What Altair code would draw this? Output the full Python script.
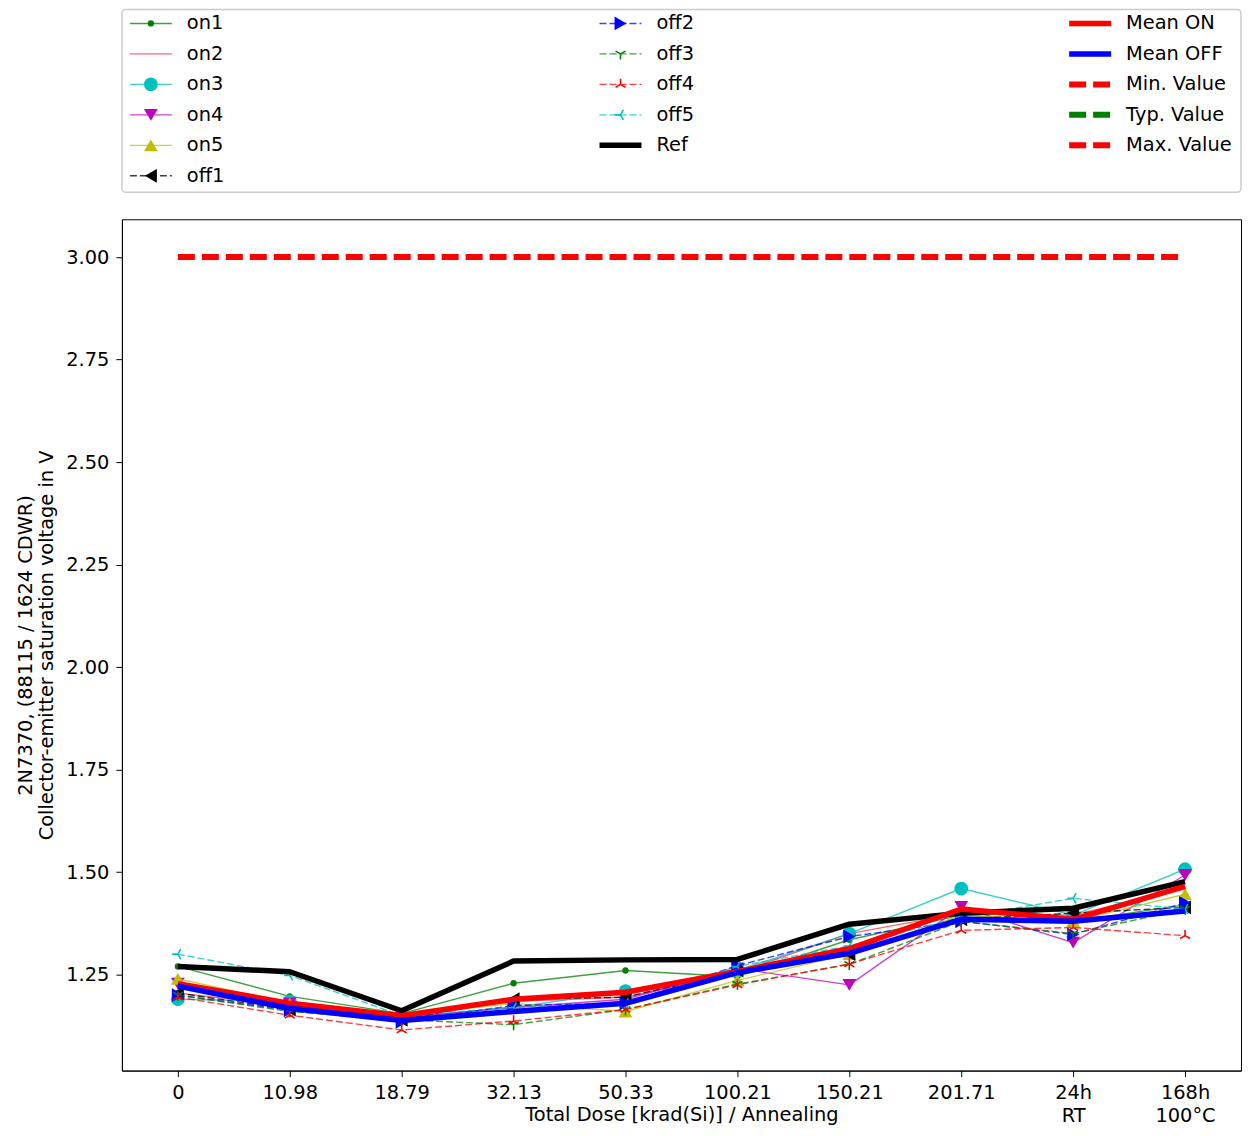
import altair as alt
import pandas as pd

# ---------------- data ----------------
DOSES = ["0", "10.98", "18.79", "32.13", "50.33", "100.21", "150.21", "201.71", "24h\nRT", "168h\n100°C"]

ON1 = [1.270, 1.197, 1.155, 1.229, 1.260, 1.245, 1.335, 1.395, 1.380, 1.420]
ON2 = [1.205, 1.175, 1.150, 1.185, 1.195, 1.255, 1.350, 1.400, 1.395, 1.460]
ON3 = [1.190, 1.185, 1.145, 1.170, 1.210, 1.260, 1.350, 1.460, 1.395, 1.507]
ON4 = [1.228, 1.180, 1.145, 1.170, 1.190, 1.265, 1.225, 1.415, 1.328, 1.493]
ON5 = [1.240, 1.180, 1.150, 1.180, 1.160, 1.236, 1.300, 1.395, 1.380, 1.446]
OFF1 = [1.205, 1.165, 1.140, 1.190, 1.195, 1.260, 1.300, 1.385, 1.400, 1.414]
OFF2 = [1.200, 1.163, 1.135, 1.175, 1.180, 1.272, 1.343, 1.380, 1.348, 1.425]
OFF3 = [1.200, 1.160, 1.140, 1.128, 1.165, 1.227, 1.275, 1.380, 1.350, 1.410]
OFF4 = [1.195, 1.151, 1.115, 1.137, 1.165, 1.225, 1.276, 1.358, 1.365, 1.345]
OFF5 = [1.300, 1.248, 1.150, 1.170, 1.180, 1.270, 1.320, 1.390, 1.436, 1.410]
REF = [1.270, 1.257, 1.162, 1.283, 1.286, 1.287, 1.373, 1.400, 1.412, 1.477]
MEAN_ON = [1.228, 1.180, 1.150, 1.190, 1.207, 1.258, 1.313, 1.410, 1.385, 1.465]
MEAN_OFF = [1.222, 1.168, 1.138, 1.160, 1.180, 1.255, 1.302, 1.385, 1.380, 1.405]
MAX_VALUE = [3.0] * 10

Y_TICKS = [1.25, 1.50, 1.75, 2.00, 2.25, 2.50, 2.75, 3.00]
Y_TITLE = ["2N7370, (88115 / 1624 CDWR)", "Collector-emitter saturation voltage in V"]
X_TITLE = "Total Dose [krad(Si)] / Annealing"

LEGEND_COLS = [
    ["on1", "on2", "on3", "on4", "on5", "off1"],
    ["off2", "off3", "off4", "off5", "Ref"],
    ["Mean ON", "Mean OFF", "Min. Value", "Typ. Value", "Max. Value"],
]

SERIES = {
    "on1": ON1, "on2": ON2, "on3": ON3, "on4": ON4, "on5": ON5,
    "off1": OFF1, "off2": OFF2, "off3": OFF3, "off4": OFF4, "off5": OFF5,
    "Ref": REF, "Mean ON": MEAN_ON, "Mean OFF": MEAN_OFF, "Max. Value": MAX_VALUE,
}

# ---------------- styles ----------------
TRI_DOWN = "M0,0L0,1M0,0L-0.866,-0.5M0,0L0.866,-0.5"
TRI_UP = "M0,0L0,-1M0,0L-0.866,0.5M0,0L0.866,0.5"
TRI_LEFT = "M0,0L-1,0M0,0L0.5,-0.866M0,0L0.5,0.866"
THIN_DASH = [7, 3]
THICK_DASH = [17, 7]

STYLES = {
    "on1": dict(color="#008000", width=1.4, dash=None, op=0.75, shape="circle", size=40, filled=True),
    "on2": dict(color="#ff0000", width=1.4, dash=None, op=0.6, shape=None),
    "on3": dict(color="#00bfbf", width=1.4, dash=None, op=0.75, shape="circle", size=190, filled=True),
    "on4": dict(color="#bf00bf", width=1.4, dash=None, op=0.75, shape="triangle-down", size=190, filled=True),
    "on5": dict(color="#bfbf00", width=1.4, dash=None, op=0.75, shape="triangle-up", size=190, filled=True),
    "off1": dict(color="#000000", width=1.4, dash=THIN_DASH, op=0.75, shape="triangle-left", size=190, filled=True),
    "off2": dict(color="#0000ff", width=1.4, dash=THIN_DASH, op=0.75, shape="triangle-right", size=190, filled=True),
    "off3": dict(color="#008000", width=1.4, dash=THIN_DASH, op=0.75, shape=TRI_DOWN, size=130, filled=False),
    "off4": dict(color="#ff0000", width=1.4, dash=THIN_DASH, op=0.75, shape=TRI_UP, size=130, filled=False),
    "off5": dict(color="#00bfbf", width=1.4, dash=THIN_DASH, op=0.75, shape=TRI_LEFT, size=130, filled=False),
    "Ref": dict(color="#000000", width=5.5, dash=None, op=1, shape=None),
    "Mean ON": dict(color="#ff0000", width=5.5, dash=None, op=1, shape=None),
    "Mean OFF": dict(color="#0000ff", width=5.5, dash=None, op=1, shape=None),
    "Min. Value": dict(color="#ff0000", width=6, dash=THICK_DASH, op=1, shape=None),
    "Typ. Value": dict(color="#008000", width=6, dash=THICK_DASH, op=1, shape=None),
    "Max. Value": dict(color="#ff0000", width=6, dash=THICK_DASH, op=1, shape=None),
}

FONT = "DejaVu Sans"
FS = 19.4
W = 1120
H_MAIN = 852
H_LEG = 183
ROW_PITCH = 30.5

# ---------------- main chart ----------------
X = alt.X(
    "dose:N",
    sort=None,
    scale=alt.Scale(domain=DOSES, type="point", padding=0.5),
    axis=alt.Axis(
        title=X_TITLE, labelAngle=0, labelExpr="split(datum.label, '\\n')",
        labelLineHeight=23, labelPadding=7, tickSize=6, grid=False,
        titleY=50, titleBaseline="alphabetic",
    ),
)
Y = alt.Y(
    "value:Q",
    scale=alt.Scale(domain=[1.016, 3.092], nice=False, zero=False),
    axis=alt.Axis(
        values=Y_TICKS, format=".2f", title=Y_TITLE, tickSize=6, labelPadding=7,
        grid=False, titleX=-86, titleBaseline="bottom", titleLineHeight=21,
    ),
)


def line_kwargs(st):
    kw = dict(color=st["color"], strokeWidth=st["width"], opacity=st["op"], strokeJoin="round")
    if st["dash"]:
        kw["strokeDash"] = st["dash"]
    return kw


def point_kwargs(st):
    kw = dict(shape=st["shape"], size=st["size"], opacity=1)
    if st["filled"]:
        kw.update(filled=True, fill=st["color"], color=st["color"], strokeWidth=0)
    else:
        kw.update(filled=False, color=st["color"], strokeWidth=1.6)
    return kw


layers = []
for name, vals in SERIES.items():
    st = STYLES[name]
    df = pd.DataFrame({"dose": DOSES, "value": vals})
    base = alt.Chart(df)
    layers.append(base.mark_line(**line_kwargs(st)).encode(x=X, y=Y))
    if st["shape"]:
        layers.append(base.mark_point(**point_kwargs(st)).encode(x=X, y=Y))

main = alt.layer(*layers).properties(
    width=W, height=H_MAIN,
    view=alt.ViewBackground(stroke="#000000", strokeWidth=1),
)

# ---------------- legend panel ----------------
leg_rows = []
for ci, col in enumerate(LEGEND_COLS):
    for ri, name in enumerate(col):
        leg_rows.append({"series": name, "col": ci, "row": ri})
leg_df = pd.DataFrame(leg_rows)

LX = alt.X("col:Q", scale=alt.Scale(domain=[-8 / 470, (W - 8) / 470], nice=False, zero=False), axis=None)
LY = alt.Y("row:Q", scale=alt.Scale(domain=[-14 / ROW_PITCH, (H_LEG - 14) / ROW_PITCH], nice=False, zero=False, reverse=True), axis=None)

leg_layers = []
for name in [n for col in LEGEND_COLS for n in col]:
    st = STYLES[name]
    base = alt.Chart(leg_df).transform_filter(alt.datum.series == name)
    leg_layers.append(
        base.mark_rule(x2Offset=42, **line_kwargs(st)).encode(x=LX, x2=alt.X2("col:Q"), y=LY)
    )
    if st["shape"]:
        leg_layers.append(base.mark_point(xOffset=21, **point_kwargs(st)).encode(x=LX, y=LY))
    leg_layers.append(
        base.mark_text(align="left", baseline="middle", dx=57, font=FONT, fontSize=FS, color="#000000")
        .encode(x=LX, y=LY, text="series:N")
    )

legend = alt.layer(*leg_layers).properties(
    width=W, height=H_LEG,
    view=alt.ViewBackground(stroke="#cccccc", strokeWidth=1.5, cornerRadius=4),
)

chart = (
    alt.vconcat(legend, main, spacing=25)
    .properties(padding={"left": 7, "top": 0, "right": 0, "bottom": 0})
    .configure_axis(
        labelFont=FONT, titleFont=FONT, labelFontSize=FS, titleFontSize=FS,
        titleFontWeight="normal", labelColor="#000000", titleColor="#000000",
        domainColor="#000000", tickColor="#000000", domainWidth=1, tickWidth=1,
    )
)

chart.save("out.html", embed_options={"renderer": "svg", "actions": False})
